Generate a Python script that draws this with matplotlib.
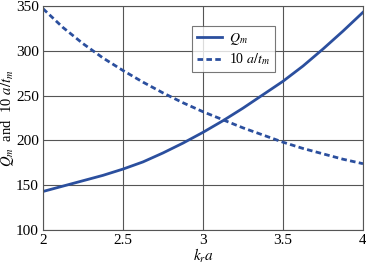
import matplotlib
matplotlib.use("Agg")
import matplotlib.pyplot as plt

plt.rcParams['font.family'] = ['Liberation Serif', 'DejaVu Serif']
plt.rcParams['mathtext.fontset'] = 'stix'

ka = [2.0, 2.125, 2.25, 2.375, 2.5, 2.625, 2.75, 2.875, 3.0,
      3.125, 3.25, 3.375, 3.5, 3.625, 3.75, 3.875, 4.0]
Qm = [143, 149, 155, 161, 168, 176, 186, 197, 209,
      222, 236, 251, 266, 283, 302, 322, 343]
ratio = [347, 326, 308, 292, 278, 265, 253, 242, 232,
         223, 214, 206, 198, 191, 185, 179, 174]

xticks = [2, 2.5, 3, 3.5, 4]
xticklabels = ['2', '2.5', '3', '3.5', '4']
yticks = [100, 150, 200, 250, 300, 350]

color = '#2b4f9e'

fig = plt.figure(figsize=(3.66, 2.66), dpi=100)
ax = fig.add_axes([43/366, 36/266, 320/366, 224/266])
ax.plot(ka, Qm, color=color, lw=2.0, label=r'$Q_m$')
ax.plot(ka, ratio, color=color, lw=2.0, ls=(0, (2, 1.2)), label=r'10 $a/t_m$')
ax.set_xlim(2, 4)
ax.set_ylim(100, 350)
ax.set_xticks(xticks)
ax.set_xticklabels(xticklabels)
ax.set_yticks(yticks)
ax.grid(True, color='#555555', lw=0.8)
ax.tick_params(length=0, labelsize=11, pad=3)
for s in ax.spines.values():
    s.set_color('#555555')
    s.set_linewidth(0.8)
ax.set_xlabel(r'$k_r a$', fontsize=11, labelpad=0)
ax.set_ylabel(r'$Q_m$  and  10 $a/t_m$', fontsize=10.5, labelpad=0)
leg = ax.legend(loc='upper left', bbox_to_anchor=(0.466, 0.911), fontsize=10,
                frameon=True, fancybox=False, edgecolor='#555555',
                handlelength=1.8, handletextpad=0.5, borderpad=0.35,
                labelspacing=0.35, borderaxespad=0)
leg.get_frame().set_linewidth(0.8)
fig.savefig('out.png', dpi=100)
